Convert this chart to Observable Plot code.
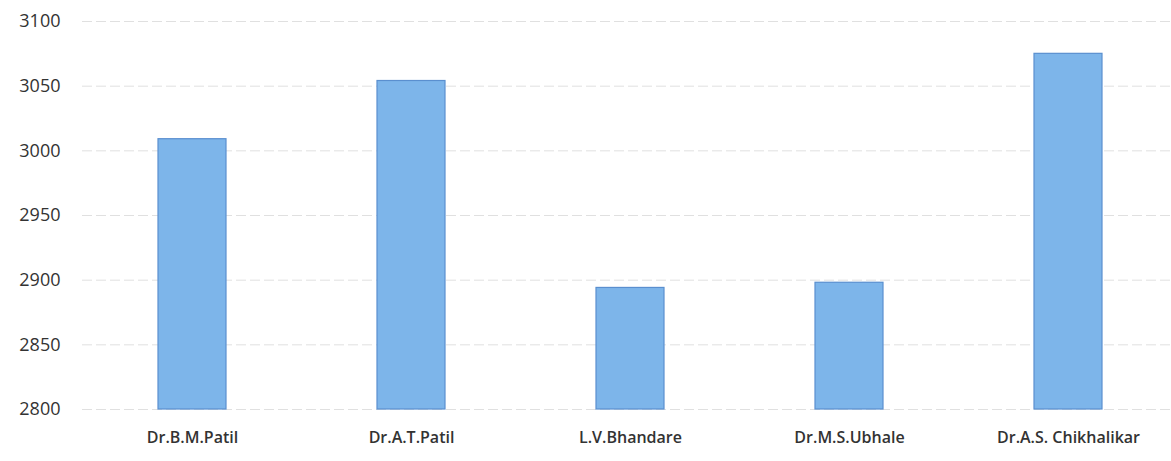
<!DOCTYPE html>
<html>
<head>
<meta charset="utf-8">
<script src="https://cdn.jsdelivr.net/npm/d3@7"></script>
<script src="https://cdn.jsdelivr.net/npm/@observablehq/plot@0.6"></script>
<style>
  html, body { margin: 0; padding: 0; background: #fff; }
  #chart svg { display: block; }
</style>
</head>
<body>
<div id="chart"></div>
<script>
const names = ["Dr.B.M.Patil", "Dr.A.T.Patil", "L.V.Bhandare", "Dr.M.S.Ubhale", "Dr.A.S. Chikhalikar"];
const values = [3009, 3054, 2894, 2898, 3075];
const yTicks = [2800, 2850, 2900, 2950, 3000, 3050, 3100];

const data = names.map((n, i) => ({name: n, value: values[i]}));

const chart = Plot.plot({
  width: 1171,
  height: 461,
  marginTop: 21,
  marginBottom: 52,
  marginLeft: 82,
  marginRight: 0,
  style: {fontFamily: "'Open Sans', sans-serif", fontSize: "13px", color: "#333", background: "#fff"},
  x: {domain: names, range: [82, 1177], paddingInner: 0.69, paddingOuter: 0.345, label: null},
  y: {domain: [2800, 3100], ticks: yTicks, label: null},
  marks: [
    Plot.gridY(yTicks, {stroke: "#e0e0e0", strokeOpacity: 1, strokeWidth: 1, strokeDasharray: "10,4"}),
    Plot.barY(data, {x: "name", y1: 2800, y2: "value", fill: "#7db5ea", stroke: "#5a8fcf", strokeWidth: 1.2}),
    Plot.axisY({ticks: yTicks, tickSize: 0, tickPadding: 22, tickFormat: d => String(d), fontSize: 18, fill: "#333"}),
    Plot.axisX({tickSize: 0, tickPadding: 22, fontSize: 16, fill: "#333", fontWeight: 600})
  ]
});
document.getElementById("chart").appendChild(chart);
</script>
</body>
</html>
